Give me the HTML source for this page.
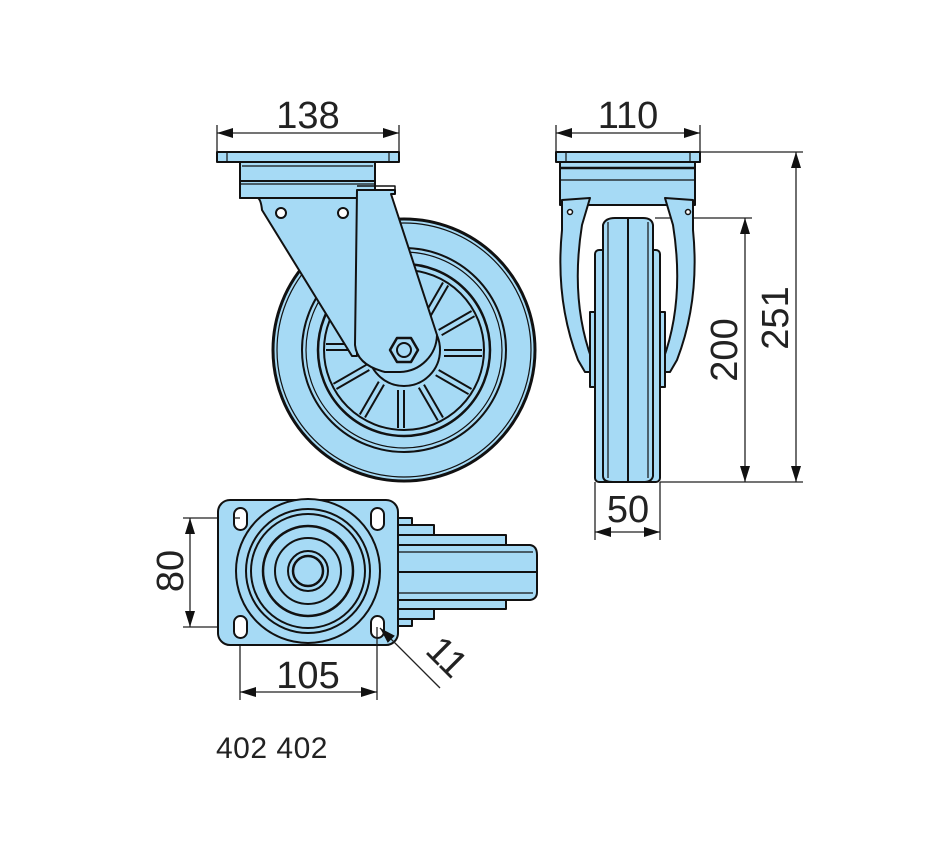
<!DOCTYPE html>
<html><head><meta charset="utf-8"><style>
html,body{margin:0;padding:0;background:#fff;width:950px;height:860px;overflow:hidden}
svg{display:block}
text{font-family:"Liberation Sans",sans-serif;fill:#222}
</style></head><body>
<svg width="950" height="860" viewBox="0 0 950 860" xmlns="http://www.w3.org/2000/svg">
<defs>
<marker id="a" viewBox="0 0 16 10" refX="16" refY="5" markerWidth="16" markerHeight="10" markerUnits="userSpaceOnUse" orient="auto-start-reverse"><path d="M0,0 L16,5 L0,10 Z" fill="#111"/></marker>
</defs>
<g stroke="#222" stroke-width="1.3" fill="none">
<line x1="217" y1="125" x2="217" y2="152"/><line x1="399" y1="125" x2="399" y2="152"/>
<line x1="217" y1="133" x2="399" y2="133" marker-start="url(#a)" marker-end="url(#a)"/>
<line x1="556" y1="125" x2="556" y2="152"/><line x1="700" y1="125" x2="700" y2="152"/>
<line x1="556" y1="133" x2="700" y2="133" marker-start="url(#a)" marker-end="url(#a)"/>
<line x1="700" y1="152" x2="803" y2="152"/><line x1="660" y1="482" x2="803" y2="482"/>
<line x1="796" y1="152" x2="796" y2="482" marker-start="url(#a)" marker-end="url(#a)"/>
<line x1="655" y1="218" x2="752" y2="218"/>
<line x1="745" y1="218" x2="745" y2="482" marker-start="url(#a)" marker-end="url(#a)"/>
<line x1="595" y1="482" x2="595" y2="540"/><line x1="660" y1="482" x2="660" y2="540"/>
<line x1="595" y1="532" x2="660" y2="532" marker-start="url(#a)" marker-end="url(#a)"/>
<line x1="183" y1="518" x2="240" y2="518"/><line x1="183" y1="627" x2="240" y2="627"/>
<line x1="190" y1="518" x2="190" y2="627" marker-start="url(#a)" marker-end="url(#a)"/>
<line x1="240" y1="627" x2="240" y2="700"/><line x1="377" y1="627" x2="377" y2="700"/>
<line x1="240" y1="692" x2="377" y2="692" marker-start="url(#a)" marker-end="url(#a)"/>
</g>
<g font-size="38">
<text x="308" y="128" text-anchor="middle">138</text>
<text x="628" y="128" text-anchor="middle">110</text>
<text x="628" y="522" text-anchor="middle">50</text>
<text x="308" y="688" text-anchor="middle">105</text>
<text transform="translate(788,318) rotate(-90)" text-anchor="middle">251</text>
<text transform="translate(737,350) rotate(-90)" text-anchor="middle">200</text>
<text transform="translate(183,571) rotate(-90)" text-anchor="middle">80</text>
<text transform="translate(438,666) rotate(45)" text-anchor="middle">11</text>
</g>
<text x="216" y="758" font-size="30" fill="#333" letter-spacing="0.5">402 402</text>

<g stroke="#111" stroke-width="2" fill="#a6daf5" stroke-linejoin="round">
<!-- FRONT VIEW -->
<circle cx="404" cy="350" r="131" stroke-width="3"/>
<circle cx="404" cy="350" r="127" stroke-width="1.2"/>
<circle cx="404" cy="350" r="102"/>
<circle cx="404" cy="350" r="98" stroke-width="1.2"/>
<circle cx="404" cy="350" r="86" stroke-width="2.5"/>
<circle cx="404" cy="350" r="80"/>
<g stroke-width="2">
<g id="sp"><line x1="404" y1="272" x2="404" y2="310"/><line x1="410" y1="272" x2="410" y2="310"/></g>
<use href="#sp" transform="rotate(30 404 350)"/><use href="#sp" transform="rotate(60 404 350)"/>
<use href="#sp" transform="rotate(90 404 350)"/><use href="#sp" transform="rotate(120 404 350)"/>
<use href="#sp" transform="rotate(150 404 350)"/><use href="#sp" transform="rotate(180 404 350)"/>
<use href="#sp" transform="rotate(210 404 350)"/><use href="#sp" transform="rotate(240 404 350)"/>
<use href="#sp" transform="rotate(270 404 350)"/><use href="#sp" transform="rotate(300 404 350)"/>
<use href="#sp" transform="rotate(330 404 350)"/>
</g>
<circle cx="404" cy="350" r="36"/>
<rect x="217" y="152" width="182" height="10"/>
<line x1="227" y1="152" x2="227" y2="162" stroke-width="1.2"/><line x1="389" y1="152" x2="389" y2="162" stroke-width="1.2"/>
<rect x="240" y="162" width="135" height="36"/>
<line x1="242" y1="166" x2="373" y2="166" stroke-width="1.2"/>
<line x1="240" y1="181" x2="375" y2="181"/>
<line x1="240" y1="184" x2="375" y2="184" stroke-width="1.2"/>
<path d="M240,198 L258,198 Q261,200 262,210 L352,356 L357,356 L357,198 Z"/>
<path d="M357,190 L392,190 L395,190 L395,194 L391,194 L437,335 A38 38 0 0 1 400,372 L385,372 Q357,365 355,345 L357,190 Z"/>
<path d="M357,186 L395,186 L395,193" fill="none" stroke-width="1.5"/>
<circle cx="281" cy="213" r="5" fill="#fff"/>
<circle cx="343" cy="213" r="5" fill="#fff"/>
<polygon points="390,350 397,338 411,338 418,350 411,362 397,362" stroke-width="2.5"/>
<circle cx="404" cy="350" r="7"/>

<!-- SIDE VIEW -->
<rect x="556" y="152" width="144" height="10"/>
<line x1="566" y1="152" x2="566" y2="162" stroke-width="1.2"/><line x1="690" y1="152" x2="690" y2="162" stroke-width="1.2"/>
<path d="M560,162 L695,162 L695,205 L560,205 Z"/>
<line x1="561" y1="168" x2="694" y2="168" stroke-width="2.5"/>
<line x1="561" y1="180" x2="694" y2="180" stroke-width="1.2"/>
<path d="M562,200 L562,230 Q555,300 578,360 L585,372 L592,372 L592,360 Q570,300 582,225 L590,198 Z"/>
<path d="M693,200 L693,230 Q700,300 677,360 L670,372 L663,372 L663,360 Q685,300 673,225 L665,198 Z"/>
<circle cx="570" cy="212" r="2.5" fill="#fff" stroke-width="1.5"/>
<circle cx="688" cy="212" r="2.5" fill="#fff" stroke-width="1.5"/>
<rect x="590" y="312" width="75" height="75"/>
<rect x="595" y="250" width="65" height="232" rx="4"/>
<path d="M603,225 Q605,218 615,218 L643,218 Q652,218 653,225 L653,476 Q652,482 643,482 L613,482 Q603,482 603,476 Z"/>
<line x1="628" y1="218" x2="628" y2="482"/>
<line x1="608" y1="222" x2="608" y2="478" stroke-width="1.2"/><line x1="648" y1="222" x2="648" y2="478" stroke-width="1.2"/>

<!-- BOTTOM VIEW -->
<rect x="396" y="518" width="16" height="20"/><rect x="396" y="606" width="16" height="20"/>
<rect x="396" y="525" width="38" height="10"/><rect x="396" y="609" width="38" height="10"/>
<rect x="396" y="535" width="110" height="10"/><rect x="396" y="599" width="110" height="10"/>
<path d="M396,545 L530,545 Q537,546 537,555 L537,592 Q537,599 530,600 L396,600 Z"/>
<line x1="396" y1="552" x2="533" y2="552" stroke-width="1.2"/><line x1="396" y1="572" x2="537" y2="572"/><line x1="396" y1="593" x2="533" y2="593" stroke-width="1.2"/>
<rect x="218" y="500" width="180" height="145" rx="12"/>
<circle cx="308" cy="571" r="72"/>
<circle cx="308" cy="571" r="62"/>
<circle cx="308" cy="571" r="57"/>
<circle cx="308" cy="571" r="45" stroke-width="2.5"/>
<circle cx="308" cy="571" r="33"/>
<circle cx="308" cy="571" r="20"/>
<circle cx="308" cy="571" r="15" stroke-width="2.5"/>
<rect x="234" y="508" width="13" height="22" rx="6.5" fill="#fff"/>
<rect x="371" y="508" width="13" height="22" rx="6.5" fill="#fff"/>
<rect x="234" y="616" width="13" height="22" rx="6.5" fill="#fff"/>
<rect x="371" y="616" width="13" height="22" rx="6.5" fill="#fff"/>
</g>
<g stroke="#222" stroke-width="1.3" fill="none">
<line x1="240" y1="518" x2="240" y2="627" stroke-width="0"/>
<line x1="377" y1="627" x2="377" y2="645"/>
<line x1="234" y1="518" x2="240" y2="518"/>
<line x1="440" y1="688" x2="380" y2="628" marker-end="url(#a)"/>
</g>
</svg>
</body></html>
